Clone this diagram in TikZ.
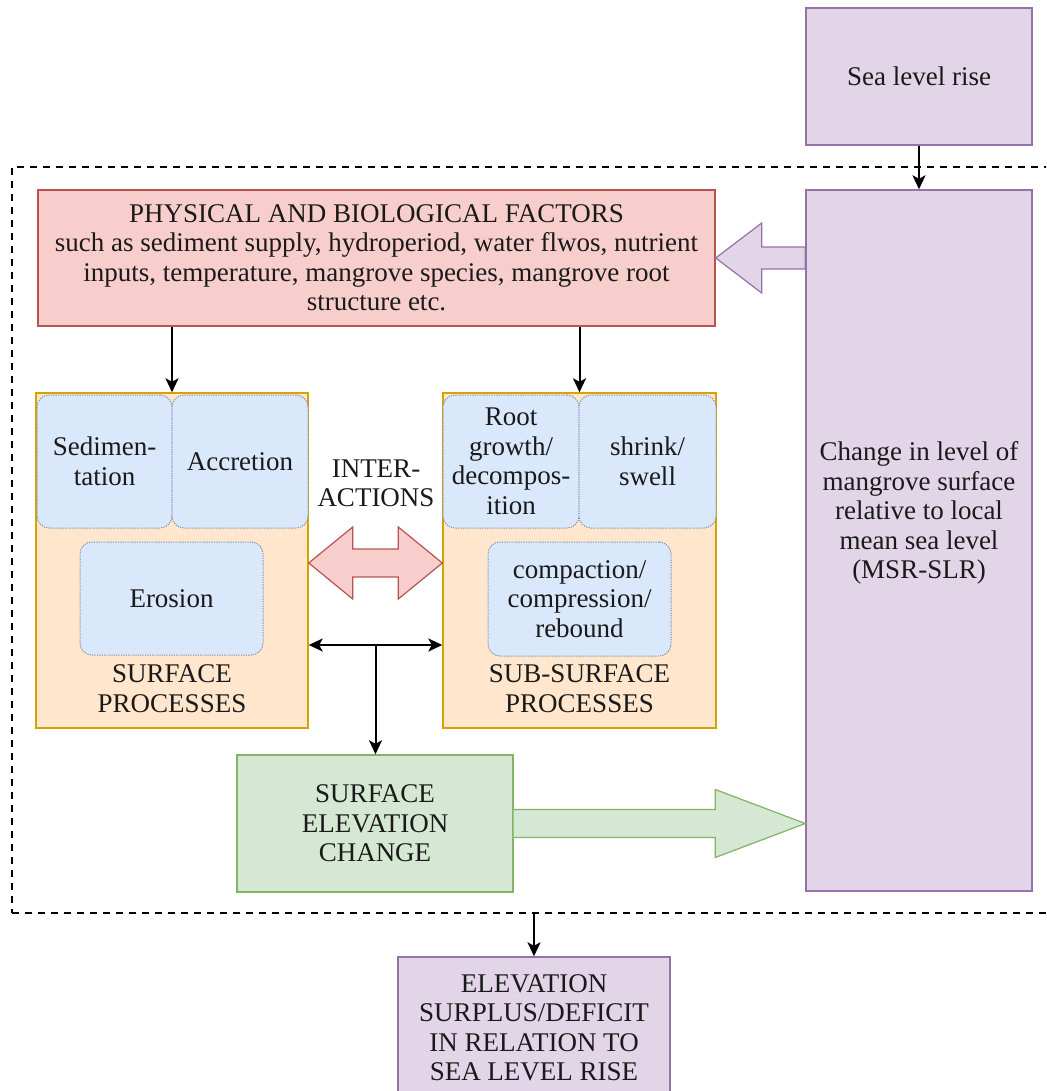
\documentclass[tikz,border=0pt]{standalone}
\usepackage{fontspec}
\IfFontExistsTF{LiberationSerif-Regular.ttf}
  {\setmainfont{LiberationSerif}[Extension=.ttf, UprightFont=*-Regular, BoldFont=*-Bold,
     ItalicFont=*-Italic, BoldItalicFont=*-BoldItalic]}
  {}
\usetikzlibrary{arrows.meta,calc}

\definecolor{purpleFill}{HTML}{E1D5E7}
\definecolor{purpleLine}{HTML}{9673A6}
\definecolor{redFill}{HTML}{F8CECC}
\definecolor{redLine}{HTML}{B85450}
\definecolor{orangeFill}{HTML}{FFE6CC}
\definecolor{orangeLine}{HTML}{D7A300}
\definecolor{blueFill}{HTML}{DAE8FC}
\definecolor{blueLine}{HTML}{7F8FA6}
\definecolor{greenFill}{HTML}{D5E8D4}
\definecolor{greenLine}{HTML}{82B366}
\definecolor{ink}{HTML}{1A1A1A}

\tikzset{
  txt/.style={font=\fontsize{27}{29.5}\selectfont, text=ink, align=center, inner sep=0pt},
  boxbase/.style={txt, rectangle, line width=1.4pt},
  purplebox/.style={boxbase, draw=purpleLine, fill=purpleFill},
  redbox/.style={boxbase, draw=redLine, fill=redFill},
  greenbox/.style={boxbase, draw=greenLine, fill=greenFill},
  procbox/.style={boxbase, draw=orangeLine, fill=orangeFill},
  subbox/.style={boxbase, draw=blueLine, fill=blueFill, line width=1pt,
    dash pattern=on 1.2pt off 1.2pt, rounded corners=12pt},
  zonebox/.style={rectangle, draw=black, line width=1.8pt,
    dash pattern=on 7pt off 6pt},
  tipshape/.style={},
  conn/.style={draw=black, line width=2pt,
    -{Stealth[length=14pt,width=13pt,inset=3.5pt]}},
  biconn/.style={draw=black, line width=2pt,
    {Stealth[length=14pt,width=13pt,inset=3.5pt]}-{Stealth[length=14pt,width=13pt,inset=3.5pt]}},
  blockarrow/.style={line width=1.2pt, line join=miter},
}

\begin{document}
\begin{tikzpicture}[x=1pt, y=-1pt]
\clip (0,0) rectangle (1046,1091);
\fill[white] (0,0) rectangle (1046,1091);

% dashed zone holding the mangrove processes
\node[zonebox, minimum width=1050pt, minimum height=746pt] (zone) at (537,540) {};

% driver boxes
\node[purplebox, minimum width=226pt, minimum height=137pt] (sea) at (919,76.5) {Sea level rise};
\node[purplebox, minimum width=226pt, minimum height=701pt] (chg) at (919,540.5) {};
\node[txt] (chgtxt) at (919,513) {Change in level of\\mangrove surface\\relative to local\\mean sea level\\(MSR-SLR)};

\node[redbox, minimum width=677pt, minimum height=136pt] (phys) at (376.5,258)
  {PHYSICAL AND BIOLOGICAL FACTORS\\such as sediment supply, hydroperiod, water flwos, nutrient\\inputs, temperature, mangrove species, mangrove root\\structure etc.};

% process containers
\node[procbox, minimum width=272pt, minimum height=335pt] (surf) at (172,560.5) {};
\node[procbox, minimum width=273pt, minimum height=335pt] (sub) at (579.5,560.5) {};

\node[subbox, minimum width=135pt, minimum height=133pt] (sed) at (104.5,461.5) {Sedimen-\\tation};
\node[subbox, minimum width=136pt, minimum height=133pt] (acc) at (240,461.5) {Accretion};
\node[subbox, minimum width=183pt, minimum height=113pt] (ero) at (171.5,598.5) {Erosion};
\node[txt] (surflbl) at (172,688.5) {SURFACE\\PROCESSES};

\node[subbox, minimum width=136pt, minimum height=133pt] (root) at (511,461.5) {Root\\growth/\\decompos-\\ition};
\node[subbox, minimum width=137pt, minimum height=133pt] (shr) at (647.5,461.5) {shrink/\\swell};
\node[subbox, minimum width=183pt, minimum height=114pt] (comp) at (579.5,599) {compaction/\\compression/\\rebound};
\node[txt] (sublbl) at (579.5,688.5) {SUB-SURFACE\\PROCESSES};

\node[txt] (inter) at (376,483.5) {INTER-\\ACTIONS};

% outcome boxes
\node[greenbox, minimum width=276pt, minimum height=137pt] (green) at (375,823.5) {SURFACE\\ELEVATION\\CHANGE};
\node[purplebox, minimum width=272pt, minimum height=170pt] (elev) at (534,1042) {};
\node[txt] (elevtxt) at (534,1028) {ELEVATION\\SURPLUS/DEFICIT\\IN RELATION TO\\SEA LEVEL RISE};

% hollow block arrows
\draw[blockarrow, draw=purpleLine, fill=purpleFill]
  (phys.east) -- ++(46,-35) -- ++(0,24) -- ($(chg.west |- phys.east)+(0,-11)$)
  -- ++(0,22) -- ($(phys.east)+(46,11)$) -- ++(0,24) -- cycle;

\coordinate (iy) at (0,563);
\coordinate (il) at (surf.east |- iy);
\coordinate (ir) at (sub.west |- iy);
\draw[blockarrow, draw=redLine, fill=redFill]
  (il) -- ++(44,-36) -- ++(0,22) -- ($(ir)+(-44,-14)$) -- ++(0,-22) -- (ir)
  -- ++(-44,36) -- ++(0,-22) -- ($(il)+(44,14)$) -- ++(0,22) -- cycle;

\coordinate (gt) at (chg.west |- green.east);
\draw[blockarrow, draw=greenLine, fill=greenFill]
  ($(green.east)+(0,-14)$) -- ($(gt)+(-90,-14)$) -- ++(0,-20) -- (gt)
  -- ++(-90,34) -- ++(0,-20) -- ($(green.east)+(0,14)$);

% thin connectors
\draw[conn] (sea.south) -- (chg.north);
\draw[conn] (phys.south -| surf.north) -- (surf.north);
\draw[conn] (phys.south -| sub.north) -- (sub.north);

\coordinate (jy) at (0,645);
\draw[biconn] (surf.east |- jy) -- (sub.west |- jy);
\coordinate (junc) at ($(surf.east |- jy)!0.5!(sub.west |- jy)$);
\draw[conn] (junc) -- (junc |- green.north);

\draw[conn] (elev.north |- zone.south) -- (elev.north);
\end{tikzpicture}
\end{document}
